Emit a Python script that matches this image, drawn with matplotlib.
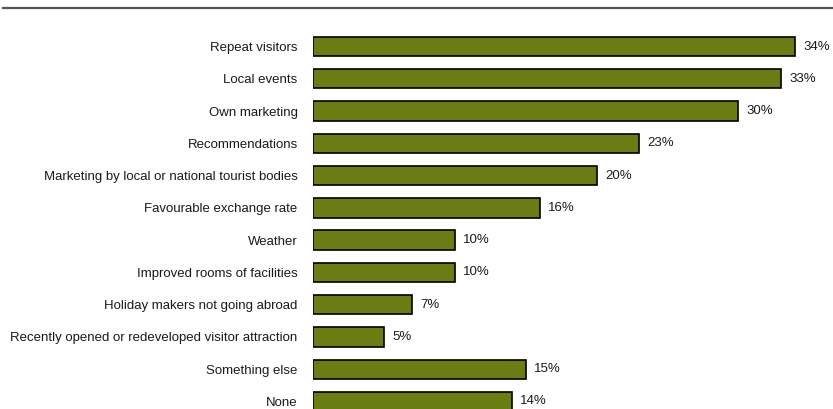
import matplotlib
matplotlib.use("Agg")
import matplotlib.pyplot as plt
from matplotlib.lines import Line2D

categories = [
    "Repeat visitors",
    "Local events",
    "Own marketing",
    "Recommendations",
    "Marketing by local or national tourist bodies",
    "Favourable exchange rate",
    "Weather",
    "Improved rooms of facilities",
    "Holiday makers not going abroad",
    "Recently opened or redeveloped visitor attraction",
    "Something else",
    "None",
]
values = [34, 33, 30, 23, 20, 16, 10, 10, 7, 5, 15, 14]

plt.rcParams['font.family'] = ['Liberation Sans', 'DejaVu Sans']

fig = plt.figure(figsize=(8.33, 4.09), dpi=100)
ax = fig.add_axes([313/833, 0, 520/833, (409-25)/409])

ypos = list(range(len(categories)))
ax.barh(ypos, values, height=0.6, color="#6a7d14", edgecolor="black", linewidth=1.2)
ax.set_xlim(0, 520/14.18)
ax.set_ylim(11 + (409-401.5)/32.27, -(46.5-25)/32.27)

for y, v in zip(ypos, values):
    ax.text(v + 0.6, y, f"{v}%", va="center", ha="left", fontsize=9.5, color="#1a1a1a")

ax.set_yticks(ypos)
ax.set_yticklabels(categories, fontsize=9.5, color="#1a1a1a")
ax.tick_params(axis="y", length=0, pad=11)
ax.set_xticks([])
for s in ax.spines.values():
    s.set_visible(False)

fig.add_artist(Line2D([3/833, 1], [1-8/409, 1-8/409], color="#555555", linewidth=1.6, transform=fig.transFigure))

fig.savefig("out.png", dpi=100)
